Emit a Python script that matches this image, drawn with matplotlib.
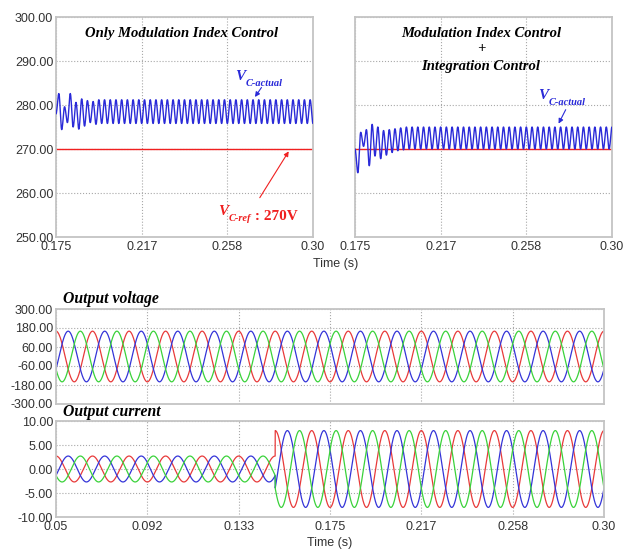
import numpy as np
import matplotlib.pyplot as plt

plt.rcParams['font.family'] = ['Liberation Sans', 'DejaVu Sans']

# ---- data ----
# DC-link voltage: successive peak/trough values of the 360 Hz ripple (V)
ripple_hz = 360
vc_only_mi = [278.0, 282.6, 274.4, 279.6, 276.0, 282.6, 275.0, 280.6, 274.5,
              281.4, 275.2, 281.0, 276.0, 280.8, 275.6, 281.2, 275.8]
vc_only_mi_steady = [281.2, 275.8]
vc_mi_int = [270.0, 264.6, 273.8, 270.6, 274.4, 266.2, 275.6, 268.4, 275.0,
             267.8, 274.2, 268.6, 274.4, 269.2, 274.6, 269.6, 274.8, 269.8]
vc_mi_int_steady = [275.0, 270.0]
vc_ref = 270.0

# three-phase output (red, blue, green)
f_out = 60
phase_deg = [0, -120, 120]
v_peak = 160.0
i_peak_before = 2.7
i_peak_after = 8.0
t_step = 0.15

top_xticks = [0.175, 0.2167, 0.2583, 0.30]
top_xlabels = ['0.175', '0.217', '0.258', '0.30']
top_yticks = [250, 260, 270, 280, 290, 300]
bot_xticks = [0.05, 0.0917, 0.1333, 0.175, 0.2167, 0.2583, 0.30]
bot_xlabels = ['0.05', '0.092', '0.133', '0.175', '0.217', '0.258', '0.30']
v_yticks = [-300, -180, -60, 60, 180, 300]
i_yticks = [-10, -5, 0, 5, 10]

RED, BLUE, GREEN = '#e83a3a', '#3434d8', '#3ad23a'
phase_colors = [RED, BLUE, GREEN]
BI = dict(family='Liberation Serif', weight='bold', style='italic')


def ripple_trace(ext, steady, t0, t1, f):
    half = 0.5 / f
    n = int(round((t1 - t0) / half)) + 1
    vals = list(ext)
    k = 0
    while len(vals) < n + 1:
        vals.append(steady[k % 2])
        k += 1
    tt, yy = [], []
    for i in range(n):
        s = np.linspace(0, 1, 12, endpoint=False)
        tt.append(t0 + (i + s) * half)
        yy.append(vals[i] + (vals[i + 1] - vals[i]) * (1 - np.cos(np.pi * s)) / 2)
    return np.concatenate(tt), np.concatenate(yy)


def style(ax):
    for sp in ax.spines.values():
        sp.set_color('#c4c4c4')
        sp.set_linewidth(1.3)
    ax.tick_params(length=0, labelsize=9, labelcolor='#333333', pad=3)
    ax.grid(True, linestyle=':', color='#a8a8a8', linewidth=0.8)
    ax.set_axisbelow(True)


fig = plt.figure(figsize=(6.29, 5.51), dpi=100)
W, H = 629, 551
ax_l = fig.add_axes([56 / W, 1 - 237 / H, 257 / W, 220 / H])
ax_r = fig.add_axes([355 / W, 1 - 237 / H, 257 / W, 220 / H])
ax_v = fig.add_axes([56 / W, 1 - 404 / H, 548 / W, 95 / H])
ax_i = fig.add_axes([56 / W, 1 - 517 / H, 548 / W, 96 / H])

# ---- top panels ----
for ax, ext, st in [(ax_l, vc_only_mi, vc_only_mi_steady),
                    (ax_r, vc_mi_int, vc_mi_int_steady)]:
    style(ax)
    ax.axhline(vc_ref, color='#f02020', lw=1.0, zorder=2)
    tt, yy = ripple_trace(ext, st, 0.175, 0.30, ripple_hz)
    ax.plot(tt, yy, color='#2a2ad8', lw=1.0, zorder=3)
    ax.set_xlim(0.175, 0.30)
    ax.set_ylim(250, 300)
    ax.set_xticks(top_xticks)
    ax.set_xticklabels(top_xlabels)
    ax.set_yticks(top_yticks)
ax_l.set_yticklabels(['%.2f' % v for v in top_yticks])
ax_l.tick_params(axis='y', pad=2)
ax_r.set_yticklabels([])

ax_l.text(0.49, 0.927, 'Only Modulation Index Control', transform=ax_l.transAxes,
          ha='center', va='center', fontsize=10.5, **BI)
for y, s in [(0.927, 'Modulation Index Control'), (0.855, '+'),
             (0.773, 'Integration Control')]:
    ax_r.text(0.49, y, s, transform=ax_r.transAxes, ha='center', va='center',
              fontsize=10.5, **BI)


def vlabel(ax, x, y, sub, color, tail=None):
    v = ax.text(x, y, 'V', color=color, fontsize=11, va='baseline', **BI)
    s = ax.annotate(sub, xy=(1, 0), xycoords=v, xytext=(0.5, -2.5),
                    textcoords='offset points', color=color, fontsize=7.5,
                    va='baseline', **BI)
    if tail:
        ax.annotate(tail, xy=(1, 0), xycoords=s, xytext=(0, 2.5),
                    textcoords='offset points', color=color, fontsize=11,
                    va='baseline', family='Liberation Serif', weight='bold')


arrow_b = dict(arrowstyle='-|>', color='#2a2ad8', lw=0.8, mutation_scale=7)
arrow_r = dict(arrowstyle='-|>', color='#f02020', lw=0.8, mutation_scale=7)

vlabel(ax_l, 0.2621, 285.7, 'C-actual', '#2a2ad8')
ax_l.annotate('', xy=(0.2710, 281.3), xytext=(0.2757, 284.5), arrowprops=arrow_b)
vlabel(ax_l, 0.2538, 255.0, 'C-ref', '#f02020', ' : 270V')
ax_l.annotate('', xy=(0.2889, 270.0), xytext=(0.2734, 258.4), arrowprops=arrow_r)
vlabel(ax_r, 0.2640, 281.4, 'C-actual', '#2a2ad8')
ax_r.annotate('', xy=(0.2734, 275.2), xytext=(0.2781, 279.5), arrowprops=arrow_b)

fig.text(336 / W, 1 - 264 / H, 'Time (s)', ha='center', va='center',
         fontsize=9, color='#333333')

# ---- bottom panels ----
t = np.linspace(0.05, 0.30, 6000)
for k, ph in enumerate(phase_deg):
    ang = 2 * np.pi * f_out * t + np.deg2rad(ph)
    ax_v.plot(t, v_peak * np.cos(ang), color=phase_colors[k], lw=0.9)
    amp = np.where(t < t_step, i_peak_before, i_peak_after)
    ax_i.plot(t, amp * np.cos(ang), color=phase_colors[k], lw=0.9)

for ax, yt, lim in [(ax_v, v_yticks, (-300, 300)), (ax_i, i_yticks, (-10, 10))]:
    style(ax)
    ax.set_xlim(0.05, 0.30)
    ax.set_ylim(*lim)
    ax.set_xticks(bot_xticks)
    ax.set_yticks(yt)
    ax.set_yticklabels(['%.2f' % v for v in yt])
    ax.tick_params(axis='y', pad=2)
ax_v.set_xticklabels([])
ax_i.set_xticklabels(bot_xlabels)

fig.text(63 / W, 1 - 303 / H, 'Output voltage', fontsize=11.3, va='baseline', **BI)
fig.text(63 / W, 1 - 416 / H, 'Output current', fontsize=11.3, va='baseline', **BI)
fig.text(330 / W, 1 - 543 / H, 'Time (s)', ha='center', va='center',
         fontsize=9, color='#333333')

fig.savefig('out.png', dpi=100)
